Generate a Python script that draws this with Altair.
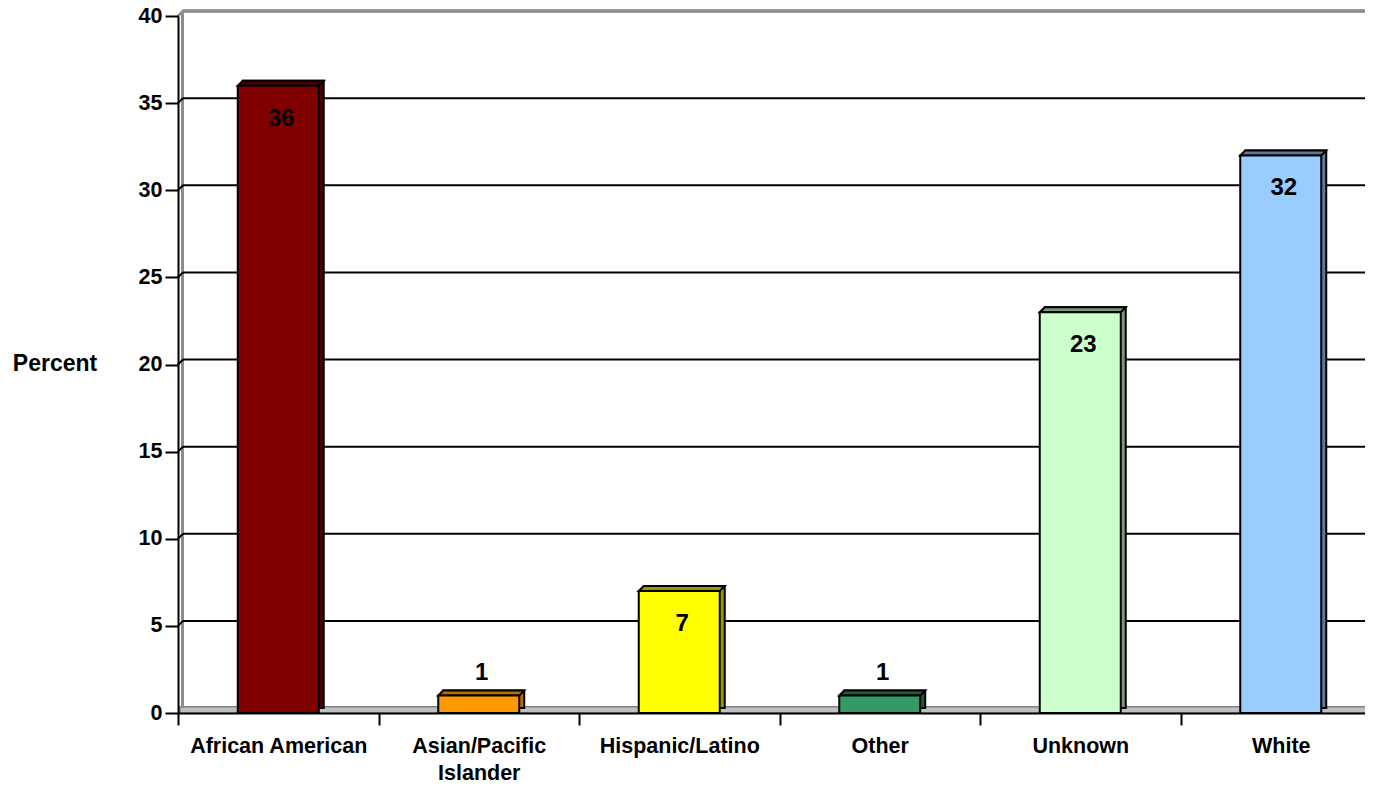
import altair as alt
import pandas as pd

categories = ["African American", "Asian/Pacific Islander", "Hispanic/Latino", "Other", "Unknown", "White"]
values = [36, 1, 7, 1, 23, 32]
front_colors = ["#800000", "#FF9900", "#FFFF00", "#339966", "#CCFFCC", "#99CCFF"]
dark_colors = ["#4d0000", "#b86e00", "#999900", "#1f5c3d", "#7a997a", "#5c7a99"]
grid_values = [5, 10, 15, 20, 25, 30, 35]
y_ticks = [0, 5, 10, 15, 20, 25, 30, 35, 40]

FONT = "Liberation Sans"
DX, DY = 5, -5
BAR_W = 81

df = pd.DataFrame({"cat": categories, "value": values})
grid_df = pd.DataFrame({"g": grid_values})

x_axis = alt.Axis(
    tickBand="extent", tickSize=12, tickWidth=2, tickColor="black",
    domainColor="black", domainWidth=2, labelAngle=0, labelFont=FONT,
    labelFontSize=21.5, labelFontWeight="bold", labelColor="black",
    labelPadding=10, labelLineHeight=27, labelLimit=400, labelOverlap=False,
    labelExpr="datum.label == 'Asian/Pacific Islander' ? ['Asian/Pacific', 'Islander'] : datum.label",
    title=None, zindex=1,
)
y_axis = alt.Axis(
    values=y_ticks, tickSize=13, tickWidth=2, tickColor="black",
    domainColor="black", domainWidth=2, labelFont=FONT, labelFontSize=21.5,
    labelFontWeight="bold", labelColor="black", labelPadding=3, grid=False,
    title="Percent", titleAngle=0, titleX=-123.5, titleY=347, titleAlign="center",
    titleBaseline="middle", titleFont=FONT, titleFontSize=23, titleFontWeight="bold",
    titleColor="black", zindex=1,
)

y_scale = alt.Scale(domain=[0, 40], nice=False)
x_enc = alt.X("cat:N", sort=categories,
              scale=alt.Scale(range=[0, 1203], paddingInner=0, paddingOuter=0),
              axis=x_axis)
y_enc = alt.Y("value:Q", scale=y_scale, axis=y_axis)
front_scale = alt.Scale(domain=categories, range=front_colors)
dark_scale = alt.Scale(domain=categories, range=dark_colors)

base = alt.Chart(df)

# 3D frame: floor, left wall, top wall
floor = alt.Chart(df).mark_rect(fill="#c0c0c0", stroke="#808080", strokeWidth=1.2, y2Offset=DY - 1).encode(
    x=alt.value(2), x2=alt.value(1215), y=alt.datum(0, scale=y_scale), y2=alt.datum(0)
)
left_wall = alt.Chart(df).mark_rule(color="#8c8c8c", strokeWidth=2.5, yOffset=DY, y2Offset=DY).encode(
    x=alt.value(4.5), y=alt.datum(40), y2=alt.datum(0)
)
top_wall = alt.Chart(df).mark_rule(color="#8c8c8c", strokeWidth=2.5, yOffset=DY).encode(
    x=alt.value(4.5), x2=alt.value(1215), y=alt.datum(40)
)
top_diag = alt.Chart(df).mark_rule(color="#8c8c8c", strokeWidth=2, y2Offset=DY).encode(
    x=alt.value(0), x2=alt.value(5), y=alt.datum(40), y2=alt.datum(40)
)

grid = alt.Chart(grid_df).mark_rule(color="black", strokeWidth=2, yOffset=DY).encode(
    x=alt.value(5), x2=alt.value(1215), y=alt.Y("g:Q", scale=y_scale)
)
grid_diag = alt.Chart(grid_df).mark_rule(color="black", strokeWidth=2, y2Offset=DY).encode(
    x=alt.value(0), x2=alt.value(5), y=alt.Y("g:Q", scale=y_scale), y2="g:Q"
)

back = base.mark_bar(size=BAR_W, xOffset=DX, yOffset=DY, y2Offset=DY, stroke="black",
                     strokeWidth=2, strokeJoin="miter").encode(
    x=x_enc, y=y_enc, y2=alt.datum(0),
    fill=alt.Fill("cat:N", scale=dark_scale, legend=None),
)
half = BAR_W / 2
top_path = f"M{-half},0 L{-half + DX},{DY} L{half + DX},{DY} L{half},0 Z"
top_face = base.mark_point(shape=top_path, size=4, filled=True, opacity=1, stroke="black",
                           strokeWidth=2, strokeJoin="miter").encode(
    x=x_enc, y=y_enc,
    fill=alt.Fill("cat:N", scale=dark_scale, legend=None),
)
front = base.mark_bar(size=BAR_W, stroke="black", strokeWidth=2, strokeJoin="miter").encode(
    x=x_enc, y=y_enc, y2=alt.datum(0),
    fill=alt.Fill("cat:N", scale=front_scale, legend=None),
)

text_in = base.transform_filter(alt.datum.value >= 5).mark_text(
    dy=33, dx=3, font=FONT, fontSize=24, fontWeight="bold", color="black", baseline="middle"
).encode(x=x_enc, y=y_enc, text=alt.Text("value:Q"))
text_out = base.transform_filter(alt.datum.value < 5).mark_text(
    dy=-23, dx=3, font=FONT, fontSize=24, fontWeight="bold", color="black", baseline="middle"
).encode(x=x_enc, y=y_enc, text=alt.Text("value:Q"))

chart = alt.layer(
    floor, left_wall, top_wall, top_diag, grid, grid_diag, back, top_face, front, text_in, text_out
).resolve_scale(fill="independent").properties(
    width=1187, height=697,
    autosize=alt.AutoSizeParams(type="none"),
    padding={"left": 170, "top": 8, "right": 0, "bottom": 67},
    background="white",
).configure_view(stroke=None)

chart.save("out.html", embed_options={"renderer": "svg", "actions": False})
